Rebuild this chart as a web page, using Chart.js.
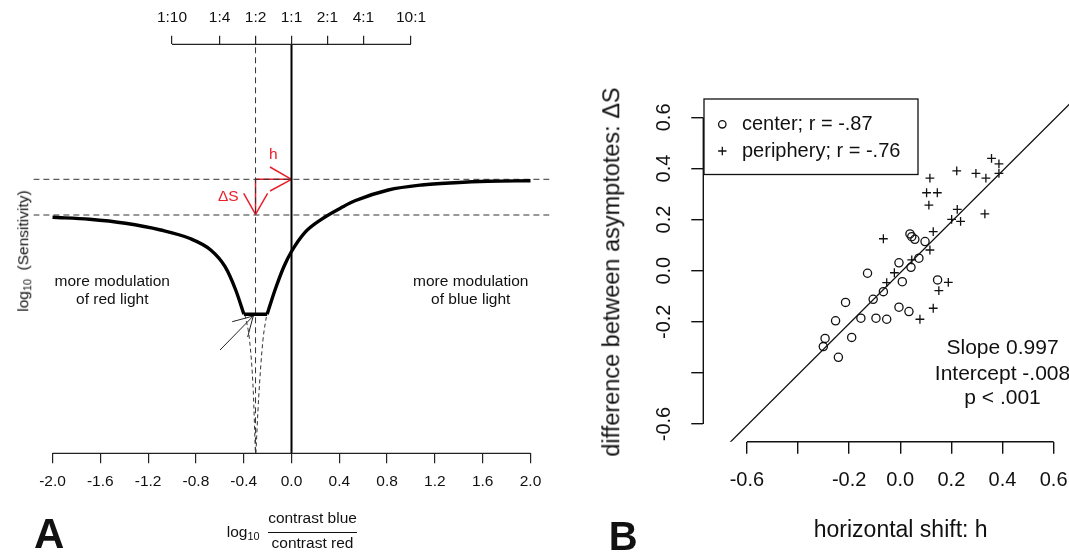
<!DOCTYPE html>
<html lang="en">
<head>
<meta charset="UTF-8">
<title>Sensitivity vs. contrast ratio</title>
<script src="https://cdn.jsdelivr.net/npm/chart.js"></script>
<style>
  body { margin: 0; background: #fff; font-family: "Liberation Sans", Arial, Helvetica, sans-serif; color: #111; }
  #page { position: relative; width: 1069px; height: 552px; overflow: hidden; }
  #chartA { position: absolute; left: 0; top: -10px; }
  #wrapB { position: absolute; left: 560px; top: 0; width: 509px; height: 552px; overflow: hidden; }
  #chartB { position: absolute; left: 0; top: 0; }
  .lbl { position: absolute; white-space: nowrap; line-height: 1; }
  .sub { position: relative; top: 3px; font-size: 0.7em; }
</style>
</head>
<body>
<div id="page">
  <canvas id="chartA" width="560" height="562"></canvas>
  <div id="wrapB"><canvas id="chartB" width="560" height="552"></canvas></div>

  <!-- panel A titles -->
  <div class="lbl" style="left:22.9px; top:251px; font-size:15.5px; transform:translate(-50%,-50%) rotate(-90deg);">log<span class="sub">10</span>&nbsp;&nbsp;(Sensitivity)</div>
  <div class="lbl" style="left:34px; top:512.5px; font-size:42px; font-weight:bold;">A</div>
  <div class="lbl" style="left:226.8px; top:523.6px; font-size:15.5px;">log<span class="sub">10</span></div>
  <div class="lbl" style="left:312.5px; top:510.2px; font-size:15.5px; transform:translateX(-50%);">contrast blue</div>
  <div style="position:absolute; left:268px; top:532.2px; width:89px; height:1.2px; background:#111;"></div>
  <div class="lbl" style="left:312.5px; top:535.2px; font-size:15.5px; transform:translateX(-50%);">contrast red</div>

  <!-- panel B titles -->
  <div class="lbl" style="left:611.9px; top:272px; font-size:23.5px; transform:translate(-50%,-50%) rotate(-90deg);">difference between asymptotes: &Delta;S</div>
  <div class="lbl" style="left:900.7px; top:517.8px; font-size:23px; transform:translateX(-50%);">horizontal shift: h</div>
  <div class="lbl" style="left:608.8px; top:516.1px; font-size:40px; font-weight:bold;">B</div>
</div>

<script>
  Chart.defaults.font.family = '"Liberation Sans", Arial, Helvetica, sans-serif';
  Chart.defaults.color = '#111';

  // ---------- Panel A: log10 sensitivity against log10 contrast ratio ----------
  const bottomTicks = [-2.0, -1.6, -1.2, -0.8, -0.4, 0.0, 0.4, 0.8, 1.2, 1.6, 2.0];
  const ratioTicks = [-1, -0.602, -0.301, 0, 0.301, 0.602, 1];
  const ratioLabels = ['1:10', '1:4', '1:2', '1:1', '2:1', '4:1', '10:1'];

  // solid curve: left branch, floor, right branch
  const leftX = [-2.0, -1.69, -1.39, -1.095, -0.855, -0.676, -0.556, -0.467, -0.398];
  const leftY = [2.36, 2.34, 2.30, 2.233, 2.15, 2.033, 1.866, 1.633, 1.39];
  const floorX = [-0.398, -0.204];
  const floorY = [1.39, 1.39];
  const rightX = [-0.204, -0.138, -0.064, 0.0, 0.113, 0.25, 0.43, 0.531, 0.81, 1.09, 1.368, 1.647, 2.0];
  const rightY = [1.39, 1.633, 1.866, 2.018, 2.21, 2.34, 2.465, 2.525, 2.633, 2.683, 2.706, 2.72, 2.726];

  // dashed continuation below the floor
  const dipLeftX = [-0.39, -0.35, -0.32, -0.302];
  const dipLeftY = [1.39, 1.12, 0.62, 0.0];
  const dipRightX = [-0.298, -0.275, -0.24, -0.207];
  const dipRightY = [0.0, 0.55, 1.12, 1.39];

  // reference lines
  const upperAsym = 2.74;
  const lowerAsym = 2.383;
  const shiftX = -0.301;
  const xLimA = [-2.16, 2.16];
  const yLimA = [0, 4.09];

  // arrows
  const dsShaftX = [-0.301, -0.301], dsShaftY = [2.74, 2.39];
  const dsHeadX = [-0.40, -0.301, -0.20], dsHeadY = [2.60, 2.39, 2.60];
  const hShaftX = [-0.301, 0], hShaftY = [2.74, 2.74];
  const hHeadX = [-0.18, 0, -0.18], hHeadY = [2.863, 2.74, 2.623];
  const ptrX = [-0.598, -0.32], ptrY = [1.033, 1.373];
  const ptrHeadX = [-0.496, -0.32, -0.367], ptrHeadY = [1.316, 1.373, 1.163];

  // ---------- Panel B: delta S against h ----------
  const centerX = [0.038, 0.045, 0.057, 0.097, 0.073, -0.005, 0.042, -0.128, 0.008, 0.146, -0.066, -0.106,
                   -0.214, -0.005, 0.034, -0.154, -0.095, -0.053, -0.253, -0.19, -0.294, -0.301, -0.242];
  const centerY = [0.144, 0.133, 0.123, 0.114, 0.049, 0.031, 0.013, -0.01, -0.043, -0.036, -0.082, -0.112,
                   -0.124, -0.143, -0.16, -0.186, -0.186, -0.19, -0.196, -0.261, -0.265, -0.297, -0.339];
  const periphX = [0.357, 0.386, 0.221, 0.296, 0.335, 0.386, 0.116, 0.103, 0.145, 0.112, 0.223, 0.331,
                   0.201, 0.236, -0.066, 0.129, 0.116, 0.045, -0.023, -0.053, 0.188, 0.151, 0.129, 0.077];
  const periphY = [0.44, 0.418, 0.391, 0.381, 0.362, 0.381, 0.362, 0.305, 0.305, 0.257, 0.24, 0.222,
                   0.201, 0.193, 0.125, 0.153, 0.081, 0.042, -0.008, -0.047, -0.046, -0.078, -0.147, -0.19];
  const fitX = [-0.70, 0.70];
  const fitY = [-0.706, 0.690];
  const bTicks = [-0.6, -0.4, -0.2, 0.0, 0.2, 0.4, 0.6];
  const bTickLabels = ['-0.6', '', '-0.2', '0.0', '0.2', '0.4', '0.6'];
  const statLines = ['Slope 0.997', 'Intercept -.008', 'p < .001'];

  const pts = (xs, ys) => xs.map((x, i) => ({ x: x, y: ys[i] }));
  function lineDs(xs, ys, color, width, dash, smooth) {
    return {
      data: pts(xs, ys),
      borderColor: color,
      borderWidth: width,
      borderDash: dash || [],
      pointRadius: 0,
      fill: false,
      tension: 0,
      cubicInterpolationMode: smooth ? 'monotone' : 'default',
      borderJoinStyle: 'round'
    };
  }

  const RED = '#e8202a';
  const DASH = [6, 4];
  const FONT = '"Liberation Sans", Arial, Helvetica, sans-serif';

  const notesA = [
    { text: 'more modulation', x: -1.5, y: 1.716, color: '#111' },
    { text: 'of red light', x: -1.5, y: 1.533, color: '#111' },
    { text: 'more modulation', x: 1.5, y: 1.716, color: '#111' },
    { text: 'of blue light', x: 1.5, y: 1.533, color: '#111' },
    { text: 'h', x: -0.152, y: 2.983, color: RED },
    { text: '\u0394S', x: -0.529, y: 2.566, color: RED }
  ];

  const plotA = {
    id: 'plotA',
    afterDraw(chart) {
      const { ctx, chartArea: ca, scales } = chart;
      ctx.save();
      ctx.strokeStyle = '#222';
      ctx.lineWidth = 1.2;
      ctx.beginPath();
      ctx.moveTo(scales.x.getPixelForValue(bottomTicks[0]), ca.bottom);
      ctx.lineTo(scales.x.getPixelForValue(bottomTicks[bottomTicks.length - 1]), ca.bottom);
      ctx.moveTo(scales.x2.getPixelForValue(ratioTicks[0]), ca.top);
      ctx.lineTo(scales.x2.getPixelForValue(ratioTicks[ratioTicks.length - 1]), ca.top);
      ctx.stroke();
      ctx.font = '15.5px ' + FONT;
      ctx.textAlign = 'center';
      ctx.textBaseline = 'middle';
      notesA.forEach(n => {
        ctx.fillStyle = n.color;
        ctx.fillText(n.text, scales.x.getPixelForValue(n.x), scales.y.getPixelForValue(n.y));
      });
      ctx.restore();
    }
  };

  new Chart(document.getElementById('chartA'), {
    type: 'line',
    data: {
      datasets: [
        lineDs(leftX, leftY, '#000', 3.4, null, true),
        lineDs(floorX, floorY, '#000', 3.4, null, false),
        lineDs(rightX, rightY, '#000', 3.4, null, true),
        lineDs(dipLeftX, dipLeftY, '#333', 1, [4, 3], true),
        lineDs(dipRightX, dipRightY, '#333', 1, [4, 3], true),
        lineDs([shiftX, shiftX], yLimA, '#333', 1, DASH, false),
        lineDs([0, 0], yLimA, '#000', 2, null, false),
        lineDs(xLimA, [upperAsym, upperAsym], '#333', 1, DASH, false),
        lineDs(xLimA, [lowerAsym, lowerAsym], '#333', 1, DASH, false),
        lineDs(ptrX, ptrY, '#222', 1, null, false),
        lineDs(ptrHeadX, ptrHeadY, '#222', 1, null, false),
        lineDs(dsShaftX, dsShaftY, RED, 1.5, null, false),
        lineDs(dsHeadX, dsHeadY, RED, 1.5, null, false),
        lineDs(hShaftX, hShaftY, RED, 1.5, null, false),
        lineDs(hHeadX, hHeadY, RED, 1.5, null, false)
      ]
    },
    options: {
      responsive: false,
      animation: false,
      events: [],
      layout: { padding: { left: 33.4, right: 10.4, top: 8.9, bottom: 51.3 } },
      plugins: { legend: { display: false }, tooltip: { enabled: false } },
      scales: {
        x: {
          type: 'linear', position: 'bottom', min: xLimA[0], max: xLimA[1],
          afterBuildTicks: s => { s.ticks = bottomTicks.map(v => ({ value: v })); },
          ticks: { autoSkip: false, maxRotation: 0, padding: 9.4, color: '#111',
                   font: { size: 15.5 }, callback: v => v.toFixed(1) },
          grid: { drawOnChartArea: false, drawTicks: true, tickLength: 10, color: '#222', tickColor: '#222', lineWidth: 1.2 },
          border: { display: false }
        },
        x2: {
          type: 'linear', axis: 'x', position: 'top', min: xLimA[0], max: xLimA[1],
          afterBuildTicks: s => { s.ticks = ratioTicks.map(v => ({ value: v })); },
          ticks: { autoSkip: false, maxRotation: 0, padding: 9.1, color: '#111',
                   font: { size: 15.5 }, callback: (v, i) => ratioLabels[i] },
          grid: { drawOnChartArea: false, drawTicks: true, tickLength: 8.6, color: '#222', tickColor: '#222', lineWidth: 1.2 },
          border: { display: false }
        },
        y: { display: false, min: yLimA[0], max: yLimA[1] }
      }
    },
    plugins: [plotA]
  });

  const plotB = {
    id: 'plotB',
    afterDraw(chart) {
      const { ctx, chartArea: ca, scales } = chart;
      const x = scales.x, y = scales.y;
      ctx.save();
      ctx.strokeStyle = '#111';
      ctx.lineWidth = 1.4;
      ctx.beginPath();
      ctx.moveTo(x.getPixelForValue(bTicks[0]), ca.bottom);
      ctx.lineTo(x.getPixelForValue(bTicks[bTicks.length - 1]), ca.bottom);
      ctx.moveTo(ca.left, y.getPixelForValue(bTicks[0]));
      ctx.lineTo(ca.left, y.getPixelForValue(bTicks[bTicks.length - 1]));
      ctx.stroke();

      // legend box
      const bx = ca.left + 0.7, by = ca.top, bw = 214, bh = 75.5;
      ctx.fillStyle = '#fff';
      ctx.fillRect(bx, by, bw, bh);
      ctx.lineWidth = 1.3;
      ctx.strokeRect(bx, by, bw, bh);
      ctx.beginPath();
      ctx.arc(bx + 18.3, by + 25.3, 3.7, 0, Math.PI * 2);
      ctx.moveTo(bx + 18.3 - 4.2, by + 52);
      ctx.lineTo(bx + 18.3 + 4.2, by + 52);
      ctx.moveTo(bx + 18.3, by + 52 - 4.2);
      ctx.lineTo(bx + 18.3, by + 52 + 4.2);
      ctx.stroke();
      ctx.fillStyle = '#111';
      ctx.font = '20px ' + FONT;
      ctx.textAlign = 'left';
      ctx.textBaseline = 'middle';
      ctx.fillText('center; r = -.87', bx + 38, by + 25.3);
      ctx.fillText('periphery; r = -.76', bx + 38, by + 52);

      // regression statistics
      ctx.font = '21px ' + FONT;
      ctx.textAlign = 'center';
      const sy = [-0.304, -0.404, -0.499];
      statLines.forEach((t, i) => ctx.fillText(t, x.getPixelForValue(0.40), y.getPixelForValue(sy[i])));
      ctx.restore();
    }
  };

  new Chart(document.getElementById('chartB'), {
    type: 'scatter',
    data: {
      datasets: [
        {
          data: pts(centerX, centerY), pointStyle: 'circle', pointRadius: 4.1,
          borderColor: '#111', backgroundColor: 'rgba(0,0,0,0)', borderWidth: 1.3
        },
        {
          data: pts(periphX, periphY), pointStyle: 'cross', pointRadius: 4.4,
          borderColor: '#111', backgroundColor: 'rgba(0,0,0,0)', borderWidth: 1.3
        },
        {
          data: pts(fitX, fitY), showLine: true, pointRadius: 0,
          borderColor: '#111', borderWidth: 1.3, fill: false
        }
      ]
    },
    options: {
      responsive: false,
      animation: false,
      events: [],
      layout: { padding: { left: 89.1, right: 22.8, top: 99, bottom: 45.7 } },
      plugins: { legend: { display: false }, tooltip: { enabled: false } },
      scales: {
        x: {
          type: 'linear', min: -0.7704, max: 0.7704,
          afterBuildTicks: s => { s.ticks = bTicks.map(v => ({ value: v })); },
          ticks: { autoSkip: false, maxRotation: 0, padding: 14.3, color: '#111',
                   font: { size: 20 }, callback: (v, i) => bTickLabels[i] },
          grid: { drawOnChartArea: false, drawTicks: true, tickLength: 12, color: '#111', tickColor: '#111', lineWidth: 1.4 },
          border: { display: false }
        },
        y: {
          type: 'linear', min: -0.6693, max: 0.672,
          afterBuildTicks: s => { s.ticks = bTicks.map(v => ({ value: v })); },
          ticks: { autoSkip: false, minRotation: 90, maxRotation: 90, crossAlign: 'center', padding: 9.1,
                   color: '#111', font: { size: 20 }, callback: (v, i) => bTickLabels[i] },
          grid: { drawOnChartArea: false, drawTicks: true, tickLength: 12, color: '#111', tickColor: '#111', lineWidth: 1.4 },
          border: { display: false }
        }
      }
    },
    plugins: [plotB]
  });
</script>
</body>
</html>
